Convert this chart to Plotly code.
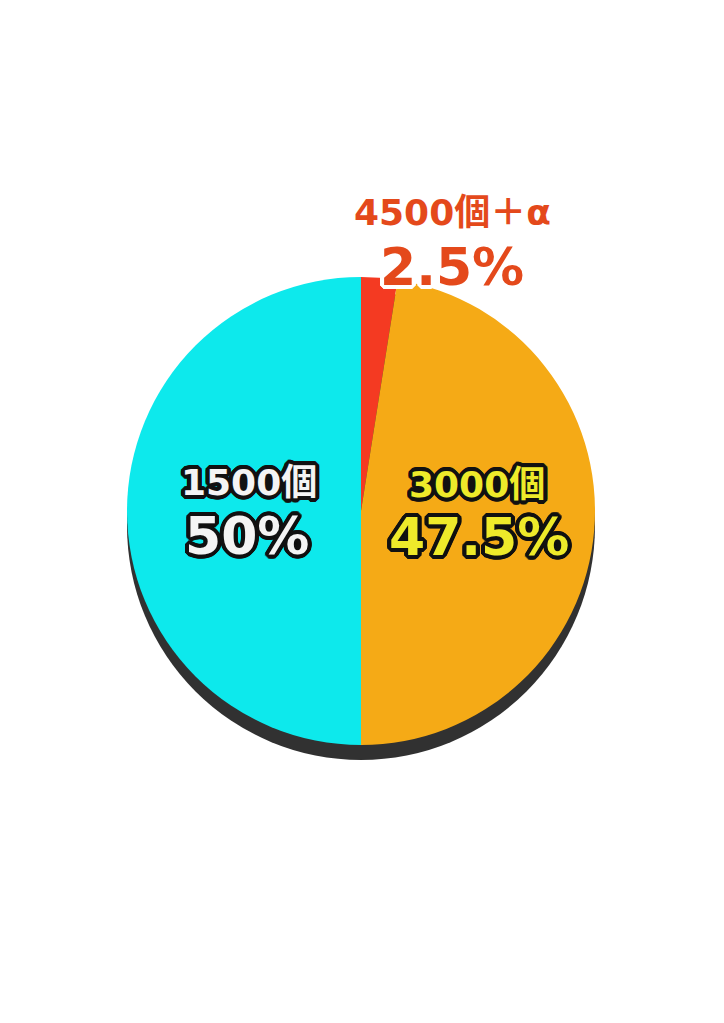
import plotly.graph_objects as go

categories = ["4500個＋α", "3000個", "1500個"]
shares = [2.5, 47.5, 50.0]
pct_labels = ["2.5%", "47.5%", "50%"]
slice_colors = ["#f43a22", "#f5aa16", "#0de9ec"]

W, H = 724, 1023
OFF = 8  # default page body margin
cx, cy, r = 361 - OFF, 511 - OFF, 234
shadow_dy = 15

def dom(cx, cy, r):
    return dict(x=[(cx - r) / W, (cx + r) / W],
                y=[1 - (cy + r) / H, 1 - (cy - r) / H])

fig = go.Figure()
# shadow disc
fig.add_trace(go.Pie(values=[1], labels=["shadow"], marker=dict(colors=["#313131"], line=dict(width=0)),
                     textinfo="none", hoverinfo="skip", sort=False, showlegend=False,
                     domain=dom(cx, cy + shadow_dy, r)))
fig.add_trace(go.Pie(values=shares, labels=categories, marker=dict(colors=slice_colors, line=dict(width=0)),
                     textinfo="none", sort=False, direction="clockwise", rotation=0,
                     showlegend=False, domain=dom(cx, cy, r)))

def stroke(c, w):
    offs = []
    for dx in range(-w, w + 1):
        for dy in range(-w, w + 1):
            if (dx or dy) and dx * dx + dy * dy <= w * w + 1:
                offs.append((dx, dy))
    return ", ".join(f"{dx}px {dy}px 0 {c}" for dx, dy in offs)

fam = "DejaVu Sans, Noto Sans CJK JP, sans-serif"
label_pos = [(452, 212, 452, 267), (477, 484, 479, 537), (249, 482, 247, 536)]
text_colors = ["#e4491b", "#eeea2a", "#f4f4f4"]
outline_colors = ["#ffffff", "#111111", "#111111"]

for cat, pct, (x1, y1, x2, y2), tc, oc in zip(categories, pct_labels, label_pos, text_colors, outline_colors):
    fig.add_annotation(x=(x1 - OFF) / W, y=1 - (y1 - OFF) / H, xref="paper", yref="paper", text=cat,
                       showarrow=False, xanchor="center", yanchor="middle",
                       font=dict(family=fam, size=36, color=tc, weight="bold", shadow=stroke(oc, 4)))
    fig.add_annotation(x=(x2 - OFF) / W, y=1 - (y2 - OFF) / H, xref="paper", yref="paper", text=pct,
                       showarrow=False, xanchor="center", yanchor="middle",
                       font=dict(family=fam, size=52, color=tc, weight="bold", shadow=stroke(oc, 4)))

fig.update_layout(width=W, height=H, margin=dict(l=0, r=0, t=0, b=0),
                  paper_bgcolor="white", plot_bgcolor="white", showlegend=False)
fig.write_html("out.html")
